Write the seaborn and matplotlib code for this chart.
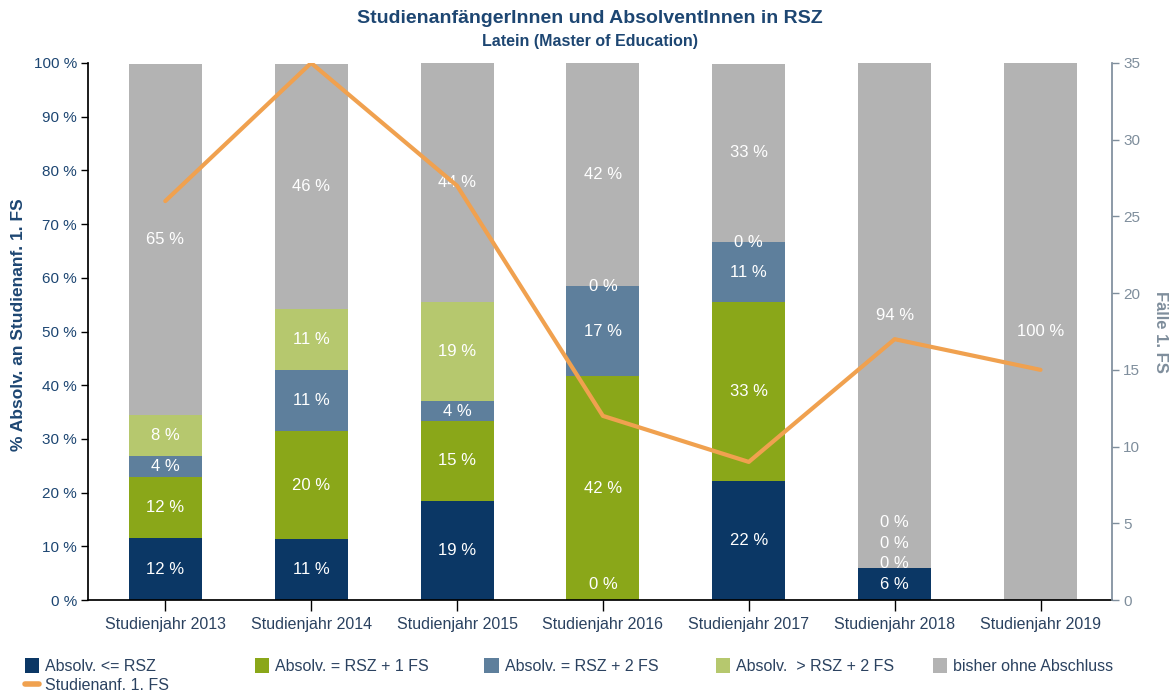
import numpy as np
import pandas as pd
import matplotlib
matplotlib.use("Agg")
import matplotlib.pyplot as plt
import seaborn as sns
from matplotlib.patches import Patch
from matplotlib.lines import Line2D

# Daten
jahre = ["Studienjahr 2013", "Studienjahr 2014", "Studienjahr 2015", "Studienjahr 2016",
         "Studienjahr 2017", "Studienjahr 2018", "Studienjahr 2019"]
absolv_rsz = [11.5, 11.4, 18.52, 0.0, 22.2, 5.9, np.nan]
absolv_rsz1 = [11.5, 20.0, 14.8, 41.7, 33.3, 0.0, np.nan]
absolv_rsz2 = [3.8, 11.4, 3.7, 16.7, 11.1, 0.0, np.nan]
absolv_mehr = [7.7, 11.4, 18.52, 0.0, 0.0, 0.0, np.nan]
ohne_abschluss = [65.4, 45.7, 44.4, 41.7, 33.3, 94.1, 100.0]
studienanf = [26, 35, 27, 12, 9, 17, 15]

serien = ["Absolv. <= RSZ", "Absolv. = RSZ + 1 FS", "Absolv. = RSZ + 2 FS",
          "Absolv.  > RSZ + 2 FS", "bisher ohne Abschluss"]
farben = ["#0b3765", "#8aa719", "#5e7f9c", "#b6c86e", "#b3b3b3"]
orange = "#f0a14f"
dunkelblau = "#1d4672"
grau_achse = "#7f8e9c"

df = pd.DataFrame({
    "jahr": jahre,
    serien[0]: absolv_rsz,
    serien[1]: absolv_rsz1,
    serien[2]: absolv_rsz2,
    serien[3]: absolv_mehr,
    serien[4]: ohne_abschluss,
})

sns.set_theme(style="white")
plt.rcParams["font.family"] = ["Liberation Sans", "DejaVu Sans"]

fig = plt.figure(figsize=(11.73, 6.99), dpi=100)
ax = fig.add_axes([0.075, 0.1416, 0.873, 0.7683])

# gestapelte Balken: kumulierte Summen von oben nach unten zeichnen
werte = df[serien].fillna(0).to_numpy()
kum = np.cumsum(werte, axis=1)
for i in range(len(serien) - 1, -1, -1):
    sns.barplot(x=df["jahr"], y=kum[:, i], color=farben[i], width=0.5,
                saturation=1, linewidth=0, ax=ax)

# Beschriftungen in den Balken
for j in range(len(jahre)):
    letzte = -10
    unten = 0
    for i in range(len(serien)):
        v = df[serien[i]].iloc[j]
        if np.isnan(v):
            continue
        y = unten + v / 2
        if v == 0:
            y = max(y, 2.8)
        if y < letzte + 3.8:
            y = letzte + 3.8
        ax.text(j, y, f"{v:.0f} %", ha="center", va="center", color="white", fontsize=12)
        letzte = y
        unten += v

ax.set_ylim(0, 100)
ax.set_xlim(-0.53, 6.49)
ax.set_yticks(range(0, 101, 10))
ax.set_yticklabels([f"{t} %" for t in range(0, 101, 10)], color=dunkelblau, fontsize=11)
ax.tick_params(axis="y", length=5, width=1, color="black", direction="out", left=True, pad=3)
ax.tick_params(axis="x", length=8, width=1, color="black", direction="out", bottom=True,
               labelsize=11.5, labelcolor="#2b4260", pad=4)
ax.set_xlabel("")
ax.set_ylabel("")
for s in ["top", "right"]:
    ax.spines[s].set_visible(False)
ax.spines["left"].set_color("black")
ax.spines["bottom"].set_color("black")

# Linie auf zweiter Achse
ax2 = ax.twinx()
sns.lineplot(x=np.arange(len(jahre)), y=studienanf, color=orange, linewidth=3, ax=ax2)
ax2.set_ylim(0, 35)
ax2.set_xlim(-0.53, 6.49)
ax2.set_yticks(range(0, 36, 5))
ax2.tick_params(axis="y", length=5, width=1, color=grau_achse, labelcolor=grau_achse,
                labelsize=11, direction="out", right=True, pad=3)
for s in ["top", "left", "bottom"]:
    ax2.spines[s].set_visible(False)
ax2.spines["right"].set_color(grau_achse)
ax2.set_ylabel("")

# Titel und Achsentitel
fig.text(0.503, 0.974, "StudienanfängerInnen und AbsolventInnen in RSZ", ha="center", va="center",
         fontsize=14, fontweight="bold", color=dunkelblau)
fig.text(0.503, 0.941, "Latein (Master of Education)", ha="center", va="center",
         fontsize=11.5, fontweight="bold", color=dunkelblau)
fig.text(0.016, 0.535, "% Absolv. an Studienanf. 1. FS", rotation=90, ha="center", va="center",
         fontsize=12.5, fontweight="bold", color=dunkelblau)
fig.text(0.989, 0.525, "Fälle 1. FS", rotation=270, ha="center", va="center",
         fontsize=12, fontweight="bold", color=grau_achse)

# Legende unten, eine Spalte je Eintrag
leg_x = [0.021, 0.217, 0.413, 0.610, 0.795]
for i in range(len(serien)):
    handles = [Patch(facecolor=farben[i], edgecolor="none")]
    labels = [serien[i]]
    if i == 0:
        handles.append(Line2D([0], [0], color=orange, linewidth=4, solid_capstyle="round"))
        labels.append("Studienanf. 1. FS")
    leg = fig.legend(handles, labels, loc="upper left", bbox_to_anchor=(leg_x[i], 0.058),
                     frameon=False, fontsize=11.5, handlelength=0.9, handleheight=1.0,
                     handletextpad=0.4, labelspacing=0.2, borderaxespad=0, borderpad=0)
    for t in leg.get_texts():
        t.set_color("#2b4260")

fig.savefig("out.png", dpi=100)
